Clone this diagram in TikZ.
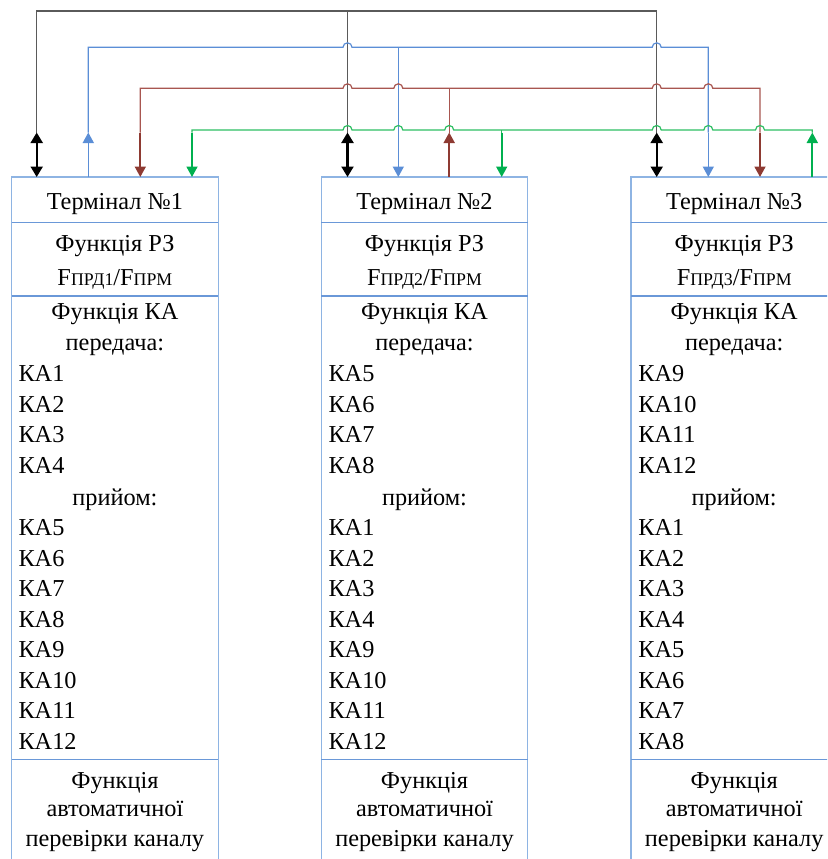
\documentclass[tikz,border=0pt]{standalone}
\usepackage{fontspec}
\setmainfont{Liberation Serif}
\newfontfamily\tnr{Liberation Serif}
\usetikzlibrary{arrows.meta,calc}
\definecolor{boxblue}{HTML}{8EB4E3}
\definecolor{divblue}{HTML}{6A98D8}
\definecolor{kline}{HTML}{5A5A5A}
\definecolor{bline}{HTML}{5B8ED6}
\definecolor{rline}{HTML}{A85650}
\definecolor{rshaft}{HTML}{8E3A32}
\definecolor{gline}{HTML}{2DBE62}
\definecolor{gshaft}{HTML}{00B04F}
\tikzset{
  termbox/.style={draw=boxblue, line width=1.2pt, minimum width=206.5pt, minimum height=700pt,
    anchor=north west, inner sep=0pt, outer sep=0pt},
  divider/.style={draw=divblue, line width=1.1pt},
  txt/.style={font=\tnr\fontsize{24.3pt}{30.5pt}\selectfont, inner sep=0pt, anchor=base},
  txtl/.style={txt, anchor=base west},
  kbus/.style={draw=kline, line width=1.2pt},
  bbus/.style={draw=bline, line width=1.2pt},
  rbus/.style={draw=rline, line width=1.2pt},
  gbus/.style={draw=gline, line width=1.2pt},
  tipend/.style={-{Triangle[length=10.5pt,width=11pt]}},
  karrow/.style={draw=black, line width=2.2pt, {Triangle[length=10.5pt,width=12pt]}-{Triangle[length=10.5pt,width=12pt]}},
  barrow/.style={draw=bline, fill=bline, line width=1.6pt, tipend},
  rarrow/.style={draw=rshaft, fill=rshaft, line width=1.8pt, tipend},
  garrow/.style={draw=gshaft, fill=gshaft, line width=1.8pt, tipend},
}
\newcommand{\subt}[1]{{\fontsize{17.8pt}{17.8pt}\selectfont #1}}
\begin{document}
\begin{tikzpicture}[x=1pt,y=1pt]
\useasboundingbox (0,0) rectangle (827,-859);
\clip (0,0) rectangle (827,-859);

% ---- terminal boxes
\node[termbox] (term1) at (11.7,-177) {};
\node[termbox] (term2) at (321.3,-177) {};
\node[termbox] (term3) at (631,-177) {};
\foreach \b in {term1,term2,term3}{
  \foreach \dy in {45.7,119,582.3}{
    \draw[divider] ([yshift=-\dy pt]\b.north west) -- ([yshift=-\dy pt]\b.north east);
  }
}

% ---- box 1 texts
\node[txt] (h1) at (114.9,-209.5) {Термінал №1};
\node[txt] (f1a) at (114.9,-251.7) {Функція РЗ};
\node[txt] (f1b) at (114.9,-285) {F\subt{ПРД1}/F\subt{ПРМ}};
\node[txt] (c1a) at (114.9,-319.7) {Функція КА};
\node[txt] (c1b) at (114.9,-350.5) {передача:};
\foreach \t [count=\k from 0] in {КА1,КА2,КА3,КА4}
  \node[txtl] (s1-\k) at (18.3,{-381.7-30.5*\k}) {\t};
\node[txt] (p1) at (114.9,-505) {прийом:};
\foreach \t [count=\k from 0] in {КА5,КА6,КА7,КА8,КА9,КА10,КА11,КА12}
  \node[txtl] (r1-\k) at (18.3,{-535.5-30.5*\k}) {\t};
\node[txt] (a1a) at (114.9,-788.3) {Функція};
\node[txt] (a1b) at (114.9,-816.7) {автоматичної};
\node[txt] (a1c) at (114.9,-846) {перевірки каналу};

% ---- box 2 texts
\node[txt] (h2) at (424.5,-209.5) {Термінал №2};
\node[txt] (f2a) at (424.5,-251.7) {Функція РЗ};
\node[txt] (f2b) at (424.5,-285) {F\subt{ПРД2}/F\subt{ПРМ}};
\node[txt] (c2a) at (424.5,-319.7) {Функція КА};
\node[txt] (c2b) at (424.5,-350.5) {передача:};
\foreach \t [count=\k from 0] in {КА5,КА6,КА7,КА8}
  \node[txtl] (s2-\k) at (328.3,{-381.7-30.5*\k}) {\t};
\node[txt] (p2) at (424.5,-505) {прийом:};
\foreach \t [count=\k from 0] in {КА1,КА2,КА3,КА4,КА9,КА10,КА11,КА12}
  \node[txtl] (r2-\k) at (328.3,{-535.5-30.5*\k}) {\t};
\node[txt] (a2a) at (424.5,-788.3) {Функція};
\node[txt] (a2b) at (424.5,-816.7) {автоматичної};
\node[txt] (a2c) at (424.5,-846) {перевірки каналу};

% ---- box 3 texts
\node[txt] (h3) at (734.2,-209.5) {Термінал №3};
\node[txt] (f3a) at (734.2,-251.7) {Функція РЗ};
\node[txt] (f3b) at (734.2,-285) {F\subt{ПРД3}/F\subt{ПРМ}};
\node[txt] (c3a) at (734.2,-319.7) {Функція КА};
\node[txt] (c3b) at (734.2,-350.5) {передача:};
\foreach \t [count=\k from 0] in {КА9,КА10,КА11,КА12}
  \node[txtl] (s3-\k) at (638.2,{-381.7-30.5*\k}) {\t};
\node[txt] (p3) at (734.2,-505) {прийом:};
\foreach \t [count=\k from 0] in {КА1,КА2,КА3,КА4,КА5,КА6,КА7,КА8}
  \node[txtl] (r3-\k) at (638.2,{-535.5-30.5*\k}) {\t};
\node[txt] (a3a) at (734.2,-788.3) {Функція};
\node[txt] (a3b) at (734.2,-816.7) {автоматичної};
\node[txt] (a3c) at (734.2,-846) {перевірки каналу};

% ---- ports on box tops
\coordinate (k1) at (36.7,-177);  \coordinate (b1) at (88.3,-177);
\coordinate (r1) at (140.3,-177); \coordinate (g1) at (192,-177);
\coordinate (k2) at (347.5,-177); \coordinate (b2) at (398.3,-177);
\coordinate (r2) at (449.2,-177); \coordinate (g2) at (501.7,-177);
\coordinate (k3) at (656.7,-177); \coordinate (b3) at (708.3,-177);
\coordinate (r3) at (760,-177);   \coordinate (g3) at (812.3,-177);
% bus levels
\coordinate (busK) at (0,-11);
\coordinate (busB) at (0,-47.3);
\coordinate (busR) at (0,-88.3);
\coordinate (busG) at (0,-130);
\coordinate (tipY) at (0,-132.5);

% ---- black bus
\draw[kbus] (k1 |- tipY) -- (k1 |- busK) -- (k3 |- busK) -- (k3 |- tipY);
\draw[kbus] (k2 |- busK) -- (k2 |- tipY);

% ---- blue bus
\draw[bbus] (b1 |- tipY) -- (b1 |- busB)
  -- ($(k2 |- busB)+(-4.5,0)$) arc[start angle=180,end angle=0,radius=4.5pt]
  -- ($(k3 |- busB)+(-4.5,0)$) arc[start angle=180,end angle=0,radius=4.5pt]
  -- (b3 |- busB) -- (b3 |- tipY);
\draw[bbus] (b2 |- busB) -- (b2 |- tipY);

% ---- red bus
\draw[rbus] (r1 |- tipY) -- (r1 |- busR)
  -- ($(k2 |- busR)+(-4.5,0)$) arc[start angle=180,end angle=0,radius=4.5pt]
  -- ($(b2 |- busR)+(-4.5,0)$) arc[start angle=180,end angle=0,radius=4.5pt]
  -- ($(k3 |- busR)+(-4.5,0)$) arc[start angle=180,end angle=0,radius=4.5pt]
  -- ($(b3 |- busR)+(-4.5,0)$) arc[start angle=180,end angle=0,radius=4.5pt]
  -- (r3 |- busR) -- (r3 |- tipY);
\draw[rbus] (r2 |- busR) -- (r2 |- tipY);

% ---- green bus
\draw[gbus] (g1 |- tipY) -- (g1 |- busG)
  -- ($(k2 |- busG)+(-4.5,0)$) arc[start angle=180,end angle=0,radius=4.5pt]
  -- ($(b2 |- busG)+(-4.5,0)$) arc[start angle=180,end angle=0,radius=4.5pt]
  -- ($(r2 |- busG)+(-4.5,0)$) arc[start angle=180,end angle=0,radius=4.5pt]
  -- ($(k3 |- busG)+(-4.5,0)$) arc[start angle=180,end angle=0,radius=4.5pt]
  -- ($(b3 |- busG)+(-4.5,0)$) arc[start angle=180,end angle=0,radius=4.5pt]
  -- ($(r3 |- busG)+(-4.5,0)$) arc[start angle=180,end angle=0,radius=4.5pt]
  -- (g3 |- busG) -- (g3 |- tipY);
\draw[gbus] (g2 |- busG) -- (g2 |- tipY);

% ---- arrows into / out of terminals
\draw[karrow] (k1 |- tipY) -- (k1);
\draw[karrow] (k2 |- tipY) -- (k2);
\draw[karrow] (k3 |- tipY) -- (k3);
\draw[barrow] (b1) -- (b1 |- tipY);
\draw[barrow] (b2 |- tipY) -- (b2);
\draw[barrow] (b3 |- tipY) -- (b3);
\draw[rarrow] (r1 |- tipY) -- (r1);
\draw[rarrow] (r2) -- (r2 |- tipY);
\draw[rarrow] (r3 |- tipY) -- (r3);
\draw[garrow] (g1 |- tipY) -- (g1);
\draw[garrow] (g2 |- tipY) -- (g2);
\draw[garrow] (g3) -- (g3 |- tipY);
\end{tikzpicture}
\end{document}
